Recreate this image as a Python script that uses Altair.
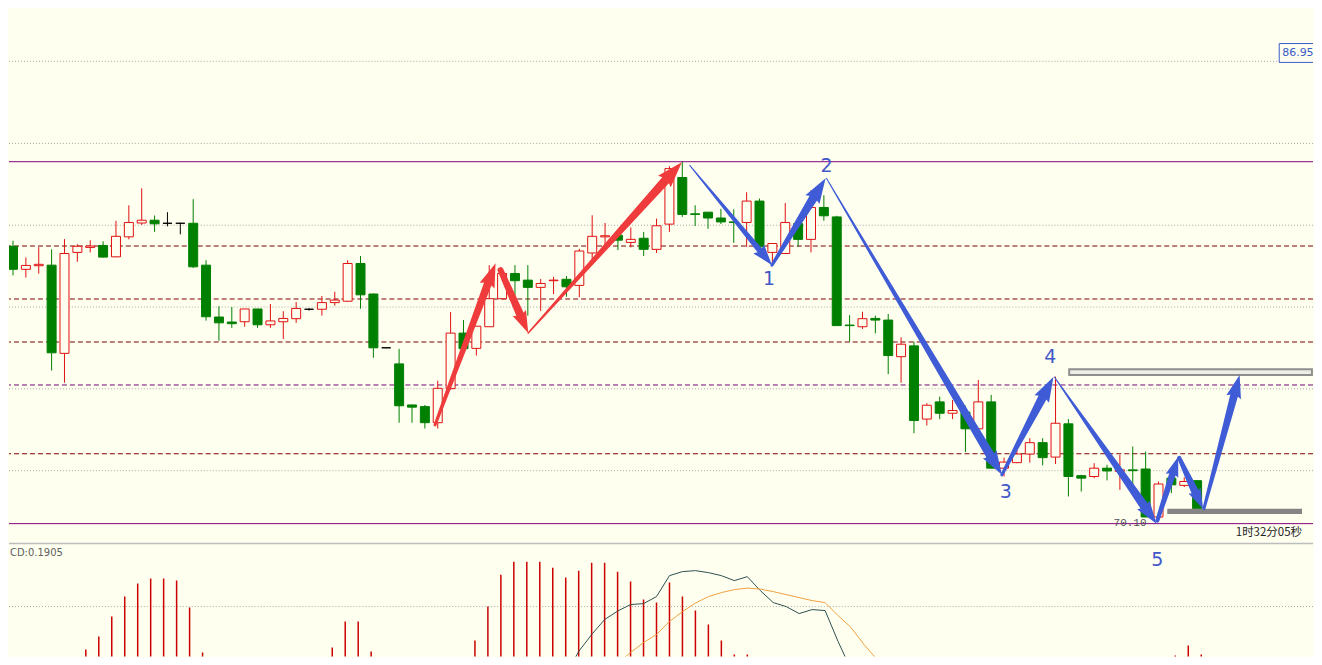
import math
import altair as alt
import pandas as pd

BG = "#FFFFF0"
RED = "#E01010"
GREEN = "#008000"
ARROW_RED = "#EF3B3B"
ARROW_BLUE = "#3F5CD6"
NUM_BLUE = "#4257C8"

# ---------------- candles (price units) ----------------
opens = [80.03, 79.20, 79.33, 79.35, 76.17, 79.81, 79.99, 80.06, 79.65, 80.37,
         80.87, 80.97, 80.86, 80.86, 80.86, 79.35, 77.48, 77.30, 77.31, 77.77,
         77.20, 77.31, 77.42, 77.76, 77.76, 78.00, 78.05, 79.41, 78.31, 76.37,
         75.79, 74.31, 74.25, 73.67, 74.90, 76.90, 76.35, 77.13, 78.14, 79.05,
         78.81, 78.55, 78.79, 78.84, 78.62, 79.79, 80.37, 80.43, 80.17, 80.32,
         79.92, 80.83, 82.51, 81.20, 81.26, 81.05, 80.91, 80.89, 81.66, 79.81,
         79.77, 80.85, 80.28, 81.43, 81.09, 77.19, 77.13, 77.43, 77.37, 76.05,
         76.44, 73.80, 74.42, 74.01, 74.05, 73.45, 74.42, 72.03, 72.23, 72.54,
         72.95, 72.43, 73.63, 71.76, 71.73, 72.03, 71.91, 71.97, 72.00, 70.27,
         71.67, 71.41, 71.58]
highs = [80.23, 79.63, 80.00, 79.92, 80.29, 80.11, 80.25, 80.21, 80.95, 81.51,
         82.12, 81.14, 81.26, 80.88, 81.73, 79.53, 77.87, 77.84, 77.77, 77.77,
         77.95, 77.69, 78.02, 77.80, 78.24, 78.39, 79.53, 79.68, 78.33, 76.38,
         76.33, 74.31, 74.31, 75.18, 77.66, 77.37, 77.15, 79.35, 79.17, 79.35,
         79.35, 78.85, 78.93, 78.96, 79.94, 81.15, 80.87, 80.61, 80.71, 80.55,
         81.03, 82.92, 83.07, 81.51, 81.26, 81.38, 81.36, 81.98, 81.75, 80.13,
         81.59, 81.03, 82.05, 81.87, 81.13, 77.55, 77.67, 77.53, 77.59, 76.75,
         76.59, 74.37, 74.61, 74.49, 74.28, 75.21, 74.67, 72.41, 72.69, 73.11,
         73.11, 75.33, 73.80, 71.79, 72.21, 72.15, 72.51, 72.81, 72.63, 71.55,
         71.79, 71.70, 71.58]
lows = [78.98, 78.90, 79.04, 75.55, 75.11, 79.47, 79.81, 79.62, 79.64, 80.28,
        80.80, 80.55, 80.75, 80.46, 79.25, 77.35, 76.62, 77.09, 77.13, 77.09,
        77.09, 76.69, 77.27, 77.71, 77.53, 77.89, 78.04, 77.78, 76.01, 76.36,
        73.67, 73.67, 73.46, 73.46, 74.85, 76.34, 76.09, 77.13, 78.14, 78.15,
        77.53, 77.70, 78.31, 78.21, 78.19, 79.53, 80.01, 79.89, 79.99, 79.68,
        79.79, 80.55, 81.09, 80.76, 80.66, 80.83, 80.15, 80.01, 80.01, 79.35,
        79.77, 80.01, 79.81, 80.95, 77.17, 76.59, 77.05, 76.89, 75.42, 75.11,
        73.29, 73.57, 73.80, 73.80, 72.61, 73.41, 72.03, 71.73, 72.21, 72.23,
        72.13, 72.18, 71.01, 71.19, 71.67, 71.59, 71.25, 71.13, 70.27, 70.10,
        71.13, 71.35, 70.57]
closes = [79.20, 79.34, 79.38, 76.19, 79.77, 80.03, 80.04, 79.64, 80.39, 80.89,
          80.97, 80.84, 80.86, 80.86, 79.29, 77.49, 77.27, 77.24, 77.77, 77.20,
          77.34, 77.43, 77.79, 77.76, 78.00, 78.09, 79.41, 78.28, 76.37, 76.37,
          74.28, 74.23, 73.67, 74.91, 76.90, 76.34, 77.15, 78.14, 79.05, 78.79,
          78.55, 78.69, 78.81, 78.57, 79.86, 80.39, 80.41, 80.25, 80.28, 79.92,
          80.77, 82.83, 81.18, 81.18, 81.05, 80.91, 80.89, 81.66, 80.01, 80.13,
          80.89, 80.28, 81.43, 81.13, 77.17, 77.17, 77.42, 77.37, 76.09, 76.50,
          73.75, 74.30, 74.01, 74.11, 73.45, 74.42, 72.03, 72.25, 72.54, 72.95,
          72.41, 73.65, 71.73, 71.67, 72.03, 71.93, 71.97, 71.94, 70.27, 71.46,
          71.43, 71.55, 70.57]

# ---------------- horizontal levels ----------------
grid_levels = [86.70, 83.74, 80.79, 77.84, 74.89, 71.94]
dash_levels = [80.04, 78.13, 76.58, 75.03, 72.55]
dash_colors = ["#7A0000", "#7A0000", "#7A0000", "#6E0A6E", "#7A0000"]
range_levels = [83.08, 70.03]

# ---------------- arrows (candle index / price) ----------------
arrow_tail_i = [32.79, 37.88, 40.03, 52.58, 58.97, 63.20, 76.83, 80.91, 88.91, 90.61, 92.53]
arrow_tail_p = [73.59, 79.17, 76.90, 82.95, 79.35, 82.48, 71.79, 75.32, 70.14, 72.40, 70.57]
arrow_tip_i = [37.49, 40.03, 51.96, 58.97, 63.13, 76.83, 80.83, 88.84, 90.53, 92.46, 95.30]
arrow_tip_p = [79.42, 76.90, 83.06, 79.35, 82.48, 71.79, 75.32, 70.03, 72.44, 70.57, 75.39]
arrow_w_tail = [3, 6, 1.5, 1, 3, 1, 3, 1, 4, 4, 3]
arrow_w_neck = [8, 8, 9, 6, 9, 9, 9, 9, 7, 8, 8]
arrow_head_len = [24, 22, 26, 21, 25, 24, 25, 23, 20, 20, 23]
arrow_color = [ARROW_RED] * 3 + [ARROW_BLUE] * 8

# wave labels
wave_text = ["1", "2", "3", "4"]
wave_i = [58.74, 63.20, 77.14, 80.60]
wave_p = [78.85, 82.92, 71.18, 76.04]

# target zones
zone_upper = [82.06, 100.92, 75.39, 75.60]
zone_lower = [89.68, 100.15, 70.38, 70.57]

# ---------------- MACD panel ----------------
hist_i = [6, 7, 8, 9, 10, 11, 12, 13, 14, 15,
          24, 25, 26, 27, 28,
          36, 37, 38, 39, 40, 41, 42, 43, 44, 45, 46, 47, 48, 49, 50,
          51, 52, 53, 54, 55, 56, 57,
          87, 90, 91, 92]
hist_v = [0.100, 0.126, 0.166, 0.206, 0.232, 0.242, 0.242, 0.238, 0.184, 0.094,
          0.084, 0.104, 0.156, 0.156, 0.096,
          0.118, 0.186, 0.250, 0.276, 0.276, 0.276, 0.264, 0.244, 0.258, 0.274,
          0.274, 0.256, 0.236, 0.200, 0.194,
          0.234, 0.206, 0.178, 0.150, 0.118, 0.090, 0.090,
          0.080, 0.088, 0.108, 0.090]
macd_i = list(range(42, 67))
macd_v = [0.020, 0.050, 0.096, 0.130, 0.160, 0.177, 0.190, 0.192, 0.206, 0.248,
          0.256, 0.258, 0.254, 0.248, 0.238, 0.246, 0.218, 0.194, 0.186, 0.172,
          0.180, 0.178, 0.116, 0.060, 0.020]
signal_i = list(range(45, 70))
signal_v = [0.020, 0.048, 0.072, 0.094, 0.114, 0.130, 0.156, 0.176, 0.193, 0.206,
            0.214, 0.220, 0.223, 0.221, 0.216, 0.210, 0.204, 0.198, 0.194, 0.168,
            0.144, 0.110, 0.080, 0.056, 0.020]

# ---------------- scales / sizes ----------------
W, H1, H2 = 1306, 535, 114
XDOM = [0.077, 100.616]
PDOM = [69.344, 88.604]
xs = alt.Scale(domain=XDOM, nice=False, zero=False)
ps = alt.Scale(domain=PDOM, nice=False, zero=False)
ms = alt.Scale(domain=[0.086, 0.314], nice=False, zero=False)
KX = W / (XDOM[1] - XDOM[0])   # pixels per candle
KY = H1 / (PDOM[1] - PDOM[0])  # pixels per price unit

candles = pd.DataFrame({"i": list(range(len(opens))), "o": opens, "h": highs,
                        "l": lows, "c": closes})
candles["dir"] = ["up" if c > o else ("down" if c < o else "flat")
                  for o, c in zip(opens, closes)]
dir_dom = ["up", "down", "flat"]

X = lambda f: alt.X(f, scale=xs, axis=None)
P = lambda f: alt.Y(f, scale=ps, axis=None)
M = lambda f: alt.Y(f, scale=ms, axis=None)

grid = alt.Chart(pd.DataFrame({"p": grid_levels})).mark_rule(
    color="#A6A6A6", strokeDash=[1, 2], strokeWidth=1).encode(y=P("p:Q"))
dashed = alt.Chart(pd.DataFrame({"p": dash_levels, "col": dash_colors})).mark_rule(
    strokeDash=[5, 3], strokeWidth=1).encode(y=P("p:Q"), color=alt.Color("col:N", scale=None))
rng = alt.Chart(pd.DataFrame({"p": range_levels})).mark_rule(
    color="#800080", strokeWidth=1).encode(y=P("p:Q"))

wicks = alt.Chart(candles).mark_rule(strokeWidth=1, clip=True).encode(
    x=X("i:Q"), y=P("l:Q"), y2="h:Q",
    color=alt.Color("dir:N", scale=alt.Scale(domain=dir_dom, range=[RED, GREEN, "#000000"]), legend=None))
bodies = alt.Chart(candles).mark_bar(size=9, strokeWidth=1, clip=True).encode(
    x=X("i:Q"), y=P("o:Q"), y2="c:Q",
    fill=alt.Fill("dir:N", scale=alt.Scale(domain=dir_dom, range=[BG, GREEN, "#000000"]), legend=None),
    stroke=alt.Stroke("dir:N", scale=alt.Scale(domain=dir_dom, range=[RED, GREEN, "#000000"]), legend=None))

zone_up = alt.Chart(pd.DataFrame({"x": [zone_upper[0]], "x2": [zone_upper[1]],
                                  "y": [zone_upper[2]], "y2": [zone_upper[3]]})).mark_rect(
    fill="#EDEDE6", stroke="#8E8E8E", strokeWidth=2, clip=True).encode(
    x=X("x:Q"), x2="x2:Q", y=P("y:Q"), y2="y2:Q")
zone_lo = alt.Chart(pd.DataFrame({"x": [zone_lower[0]], "x2": [zone_lower[1]],
                                  "y": [zone_lower[2]], "y2": [zone_lower[3]]})).mark_rect(
    fill="#858585", clip=True).encode(x=X("x:Q"), x2="x2:Q", y=P("y:Q"), y2="y2:Q")

# arrow shafts (tapered trails) and heads (rotated symbols)
shaft_rows, head_rows = [], []
for k in range(len(arrow_tail_i)):
    ti, tp, hi, hp = arrow_tail_i[k], arrow_tail_p[k], arrow_tip_i[k], arrow_tip_p[k]
    dx = (hi - ti) * KX
    dy = -(hp - tp) * KY
    L = math.hypot(dx, dy)
    ux, uy = dx / L, dy / L
    hl = arrow_head_len[k]
    se = hl - 4
    shaft_rows.append({"a": k, "s": 0, "x": ti, "y": tp, "w": arrow_w_tail[k], "col": arrow_color[k]})
    shaft_rows.append({"a": k, "s": 1, "x": hi - se * ux / KX, "y": hp + se * uy / KY,
                       "w": arrow_w_neck[k], "col": arrow_color[k]})
    ang = math.degrees(math.atan2(ux, -uy)) % 360
    head_rows.append({"a": k, "x": hi - (hl / 2) * ux / KX, "y": hp + (hl / 2) * uy / KY,
                      "sz": hl * hl, "ang": ang, "col": arrow_color[k]})

shafts = alt.Chart(pd.DataFrame(shaft_rows)).mark_trail(clip=True).encode(
    x=X("x:Q"), y=P("y:Q"), size=alt.Size("w:Q", scale=None),
    color=alt.Color("col:N", scale=None), detail="a:N", order="s:Q")
heads = alt.Chart(pd.DataFrame(head_rows)).mark_point(
    shape="M0,-1 L0.66,1 L0,0.72 L-0.66,1 Z", filled=True, opacity=1, strokeWidth=0, clip=True).encode(
    x=X("x:Q"), y=P("y:Q"), size=alt.Size("sz:Q", scale=None),
    angle=alt.Angle("ang:Q", scale=None), color=alt.Color("col:N", scale=None))

waves = alt.Chart(pd.DataFrame({"t": wave_text, "x": wave_i, "y": wave_p})).mark_text(
    font="DejaVu Sans", fontSize=19, color=NUM_BLUE, baseline="middle", align="center").encode(
    x=X("x:Q"), y=P("y:Q"), text="t:N")

low_lbl = alt.Chart(pd.DataFrame({"t": ["70.10"], "x": [88.07], "y": [70.05]})).mark_text(
    font="Liberation Mono", fontSize=11, color="#505050", align="right", baseline="middle").encode(
    x=X("x:Q"), y=P("y:Q"), text="t:N")
timer = alt.Chart(pd.DataFrame({"t": ["1时32分05秒"], "x": [100.15], "y": [69.70]})).mark_text(
    font="Noto Sans CJK SC", fontSize=11.5, color="#222222", align="right", baseline="middle").encode(
    x=X("x:Q"), y=P("y:Q"), text="t:N")
pbox = alt.Chart(pd.DataFrame({"x": [98.38], "x2": [101.08], "y": [86.66], "y2": [87.34]})).mark_rect(
    fill=BG, stroke="#3A5AC8", strokeWidth=1, clip=True).encode(
    x=X("x:Q"), x2="x2:Q", y=P("y:Q"), y2="y2:Q")
ptxt = alt.Chart(pd.DataFrame({"t": ["86.95"], "x": [98.61], "y": [87.00]})).mark_text(
    font="DejaVu Sans", fontSize=11, color="#3A5AC8", align="left", baseline="middle").encode(
    x=X("x:Q"), y=P("y:Q"), text="t:N")

price = alt.layer(grid, dashed, rng, wicks, bodies, zone_up, zone_lo, shafts, heads, waves,
                  low_lbl, timer, pbox, ptxt).properties(width=W, height=H1)

# MACD panel
sep = alt.Chart(pd.DataFrame({"v": [0.3125]})).mark_rule(color="#BDBDBD", strokeWidth=1.5).encode(y=M("v:Q"))
mgrid = alt.Chart(pd.DataFrame({"v": [0.186]})).mark_rule(
    color="#A6A6A6", strokeDash=[1, 2], strokeWidth=1).encode(y=M("v:Q"))
hist = alt.Chart(pd.DataFrame({"i": hist_i, "v": hist_v, "z": [0.0] * len(hist_i)})).mark_rule(
    color="#CC0000", strokeWidth=1.5, clip=True).encode(x=X("i:Q"), y=M("z:Q"), y2="v:Q")
mline = alt.Chart(pd.DataFrame({"i": macd_i, "v": macd_v})).mark_line(
    color="#2F4F4F", strokeWidth=1, clip=True).encode(x=X("i:Q"), y=M("v:Q"))
sline = alt.Chart(pd.DataFrame({"i": signal_i, "v": signal_v})).mark_line(
    color="#F0A040", strokeWidth=1, clip=True).encode(x=X("i:Q"), y=M("v:Q"))
mlabel = alt.Chart(pd.DataFrame({"t": ["CD:0.1905"], "x": [0.15], "v": [0.294]})).mark_text(
    font="DejaVu Sans", fontSize=10, color="#606060", align="left", baseline="middle").encode(
    x=X("x:Q"), y=M("v:Q"), text="t:N")
five = alt.Chart(pd.DataFrame({"t": ["5"], "x": [88.61], "v": [0.280]})).mark_text(
    font="DejaVu Sans", fontSize=19, color=NUM_BLUE, align="center", baseline="middle").encode(
    x=X("x:Q"), y=M("v:Q"), text="t:N")

macd = alt.layer(mgrid, hist, mline, sline, sep, mlabel, five).properties(width=W, height=H2)

chart = alt.vconcat(price, macd, spacing=0, bounds="flush").properties(
    padding=0, background=BG).configure_view(stroke=None, fill=None)

chart.save("out.html", embed_options={"renderer": "svg", "actions": False})
